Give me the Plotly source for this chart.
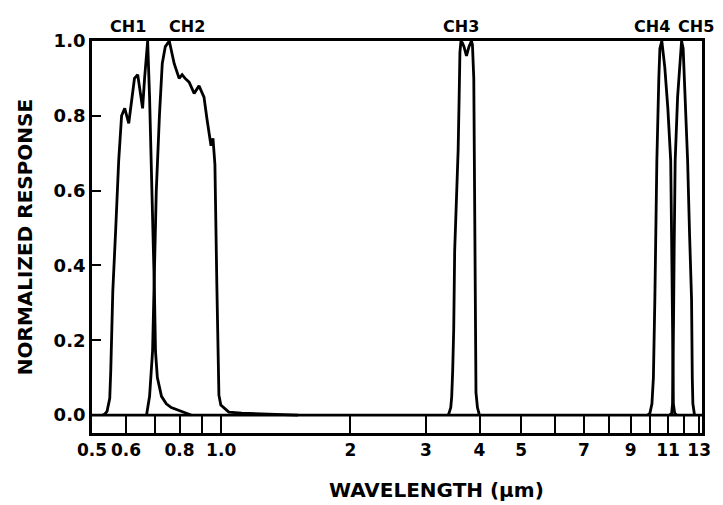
import plotly.graph_objects as go
import math

# ---- data (wavelength in micrometres, normalized response) ----
ch1_wl = [0.530, 0.536, 0.542, 0.550, 0.553, 0.556, 0.559, 0.568, 0.577, 0.586, 0.596, 0.609,
          0.619, 0.628, 0.639, 0.649, 0.656, 0.663, 0.674, 0.681, 0.688, 0.693, 0.699, 0.703,
          0.710, 0.726, 0.745, 0.765, 0.798, 0.820, 0.851]
ch1_resp = [0.0, 0.003, 0.01, 0.045, 0.12, 0.24, 0.33, 0.50, 0.68, 0.80, 0.82, 0.78,
            0.84, 0.90, 0.91, 0.86, 0.82, 0.90, 1.0, 0.85, 0.67, 0.50, 0.33, 0.17,
            0.10, 0.05, 0.03, 0.02, 0.012, 0.008, 0.0]

ch2_wl = [0.670, 0.681, 0.692, 0.699, 0.706, 0.718, 0.729, 0.741, 0.757, 0.777, 0.798, 0.811,
          0.824, 0.842, 0.865, 0.888, 0.912, 0.927, 0.937, 0.947, 0.957, 0.967, 0.977, 0.988,
          0.998, 1.014, 1.042, 1.116, 1.29, 1.51]
ch2_resp = [0.0, 0.05, 0.17, 0.40, 0.60, 0.80, 0.94, 0.985, 1.0, 0.94, 0.90, 0.91,
            0.90, 0.89, 0.86, 0.88, 0.85, 0.79, 0.75, 0.72, 0.74, 0.67, 0.35, 0.053,
            0.027, 0.02, 0.008, 0.005, 0.002, 0.0]

ch3_wl = [3.374, 3.392, 3.428, 3.446, 3.464, 3.483, 3.501, 3.539, 3.567, 3.586, 3.601, 3.621,
          3.65, 3.68, 3.73, 3.78, 3.83, 3.851, 3.879, 3.890, 3.898, 3.910, 3.925, 3.956, 3.998]
ch3_resp = [0.0, 0.003, 0.02, 0.05, 0.12, 0.23, 0.44, 0.58, 0.71, 0.85, 0.97, 1.0,
            0.995, 0.985, 0.96, 0.985, 1.0, 0.99, 0.90, 0.70, 0.44, 0.20, 0.06, 0.02, 0.0]

ch4_wl = [9.87, 9.98, 10.09, 10.17, 10.25, 10.36, 10.47, 10.53, 10.64, 10.81, 10.99, 11.16,
          11.22, 11.26, 11.29, 11.32, 11.40, 11.52]
ch4_resp = [0.0, 0.005, 0.03, 0.10, 0.31, 0.68, 0.90, 0.98, 1.0, 0.93, 0.82, 0.68,
            0.45, 0.25, 0.10, 0.03, 0.005, 0.0]

ch5_wl = [11.10, 11.22, 11.27, 11.30, 11.33, 11.37, 11.43, 11.58, 11.77, 11.83, 11.93, 12.06,
          12.22, 12.35, 12.48, 12.53, 12.57, 12.68]
ch5_resp = [0.0, 0.005, 0.03, 0.10, 0.25, 0.45, 0.68, 0.85, 0.98, 1.0, 0.98, 0.85,
            0.68, 0.48, 0.31, 0.10, 0.03, 0.0]

channel_names = ["CH1", "CH2", "CH3", "CH4", "CH5"]
channel_label_x = [0.606, 0.833, 3.63, 10.09, 12.75]

x_tick_vals = [0.5, 0.6, 0.7, 0.8, 0.9, 1.0, 2, 3, 4, 5, 6, 7, 8, 9, 10, 11, 12, 13]
x_tick_text = ["0.5", "0.6", "", "0.8", "", "1.0", "2", "3", "4", "5", "", "7", "", "9", "", "11", "", "13"]
y_tick_vals = [0.0, 0.2, 0.4, 0.6, 0.8, 1.0]
y_tick_text = ["0.0", "0.2", "0.4", "0.6", "0.8", "1.0"]

FONT = "DejaVu Sans"
LW = 2.8

fig = go.Figure()
for wl, resp in [(ch1_wl, ch1_resp), (ch2_wl, ch2_resp), (ch3_wl, ch3_resp),
                 (ch4_wl, ch4_resp), (ch5_wl, ch5_resp)]:
    fig.add_trace(go.Scatter(x=wl, y=resp, mode="lines",
                             line=dict(color="black", width=LW), showlegend=False,
                             hoverinfo="skip"))

for name, xv in zip(channel_names, channel_label_x):
    fig.add_annotation(x=math.log10(xv), y=1.0, xref="x", yref="y", text=name,
                       showarrow=False, yanchor="bottom", yshift=3,
                       font=dict(family=FONT, size=16, color="black", weight="bold"))

fig.add_annotation(x=0.565, y=0.0, xref="paper", yref="paper", text="WAVELENGTH (µm)",
                   showarrow=False, yanchor="middle", xanchor="center", yshift=-57,
                   font=dict(family=FONT, size=20, color="black", weight="bold"))

# line separating the wavelength scale strip from the plot
fig.add_shape(type="line", xref="paper", x0=0, x1=1, yref="y", y0=0, y1=0,
              line=dict(color="black", width=LW))

fig.update_layout(
    width=723, height=505,
    margin=dict(l=92, r=17, t=41, b=72),
    paper_bgcolor="white", plot_bgcolor="white",
    xaxis=dict(type="log", range=[math.log10(0.5), math.log10(13.2)],
               tickvals=x_tick_vals, ticktext=x_tick_text,
               ticks="inside", ticklen=18, tickwidth=2, tickcolor="black",
               showline=True, linecolor="black", linewidth=LW, mirror=True,
               showgrid=False, zeroline=False,
               tickfont=dict(family=FONT, size=17, color="black", weight="bold")),
    yaxis=dict(range=[-0.048, 1.0], tickvals=y_tick_vals, ticktext=y_tick_text,
               ticks="inside", ticklen=9, tickwidth=2, tickcolor="black",
               showline=True, linecolor="black", linewidth=LW, mirror=True,
               showgrid=False, zeroline=False,
               tickfont=dict(family=FONT, size=18, color="black", weight="bold"),
               title=dict(text="NORMALIZED RESPONSE", standoff=16,
                          font=dict(family=FONT, size=20, color="black", weight="bold"))),
    yaxis2=dict(range=[-0.048, 1.0], overlaying="y", side="left",
                tickvals=y_tick_vals, showticklabels=False,
                ticks="outside", ticklen=4, tickwidth=2, tickcolor="black",
                showline=False, showgrid=False, zeroline=False),
)

fig.write_html("out.html")
